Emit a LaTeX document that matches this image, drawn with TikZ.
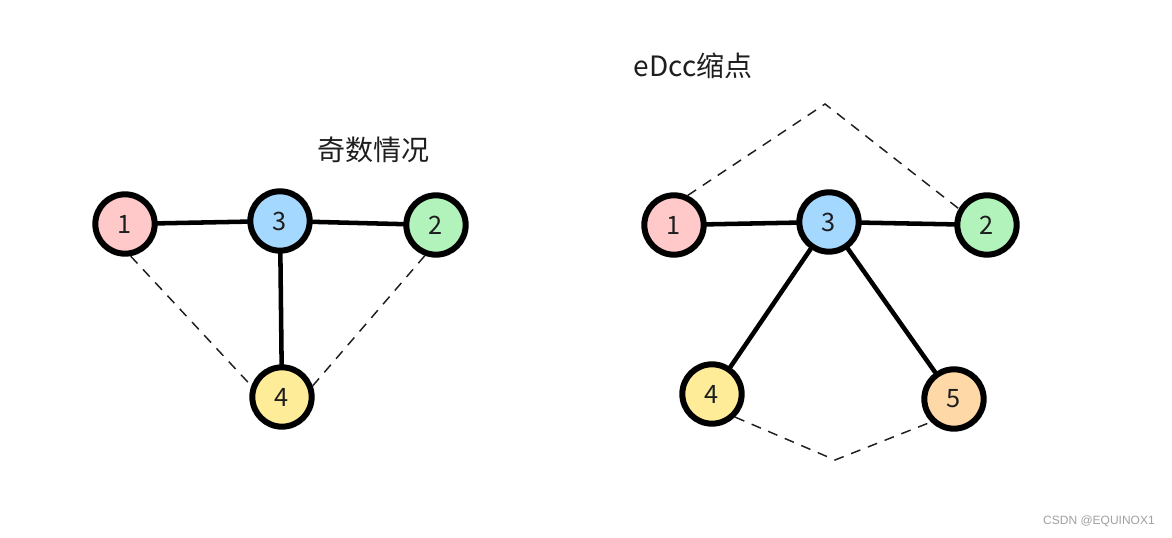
\documentclass[tikz,border=0pt]{standalone}
\usepackage{fontspec}
\newfontfamily\cjk{Noto Sans CJK SC}
\newfontfamily\wmfont{Liberation Sans}

\tikzset{every picture/.style={line width=0.75pt}}
\tikzset{
  vtx/.style={circle, draw={rgb, 255:red, 0; green, 0; blue, 0}, line width=4.5pt, minimum size=44.5pt, inner sep=0pt, font=\cjk\fontsize{19}{19}\selectfont, text={rgb, 255:red, 30; green, 30; blue, 30}},
  tree/.style={line width=3.4pt, line cap=round},
  virt/.style={line width=1.1pt, dash pattern={on 7.5pt off 6pt}, draw={rgb, 255:red, 30; green, 30; blue, 30}},
}

\begin{document}
\begin{tikzpicture}[x=0.75pt,y=0.75pt,yscale=-1,xscale=1]
\useasboundingbox (0,0) rectangle (1172,538);

%Shape: Circle
\node [vtx, fill={rgb, 255:red, 255; green, 201; blue, 201}] (l1) at (125,224) {1};
%Shape: Circle
\node [vtx, fill={rgb, 255:red, 165; green, 216; blue, 255}] (l3) at (280,221) {3};
%Shape: Circle
\node [vtx, fill={rgb, 255:red, 178; green, 242; blue, 187}] (l2) at (436,225) {2};
%Shape: Circle
\node [vtx, fill={rgb, 255:red, 255; green, 236; blue, 153}] (l4) at (282,397) {4};

%Straight Lines
\draw [tree] (l1) -- (l3) ;
%Straight Lines
\draw [tree] (l3) -- (l2) ;
%Straight Lines
\draw [tree] (l3) -- (l4) ;
%Straight Lines
\draw [virt] (l1.-80) -- (l4.160) ;
%Straight Lines
\draw [virt] (l2.-110) -- (l4.20) ;

%Shape: Circle
\node [vtx, fill={rgb, 255:red, 255; green, 201; blue, 201}] (r1) at (674,225) {1};
%Shape: Circle
\node [vtx, fill={rgb, 255:red, 165; green, 216; blue, 255}] (r3) at (829,222) {3};
%Shape: Circle
\node [vtx, fill={rgb, 255:red, 178; green, 242; blue, 187}] (r2) at (987,225) {2};
%Shape: Circle
\node [vtx, fill={rgb, 255:red, 255; green, 236; blue, 153}] (r4) at (712,394) {4};
%Shape: Circle
\node [vtx, fill={rgb, 255:red, 255; green, 216; blue, 168}] (r5) at (954,399) {5};

%Straight Lines
\draw [tree] (r1) -- (r3) ;
%Straight Lines
\draw [tree] (r3) -- (r2) ;
%Straight Lines
\draw [tree] (r3) -- (r4) ;
%Straight Lines
\draw [tree] (r3) -- (r5) ;

\coordinate (top) at (825,104) ;
\coordinate (bot) at (835,460) ;
%Straight Lines
\draw [virt] (r1.65) -- (top) -- (r2.150) ;
%Straight Lines
\draw [virt] (r4.-45) -- (bot) -- (r5.-135) ;

% Text Node
\node [font=\cjk\fontsize{21}{21}\selectfont, text={rgb, 255:red, 30; green, 30; blue, 30}] (odd) at (373,150) {奇数情况};
% Text Node
\node [font=\cjk\fontsize{21}{21}\selectfont, text={rgb, 255:red, 30; green, 30; blue, 30}] (edcc) at (693,66) {eDcc缩点};
% Text Node
\node [font=\wmfont\fontsize{9}{9}\selectfont, text={rgb, 255:red, 160; green, 160; blue, 160}] (wm) at (1099,521) {CSDN @EQUINOX1};

\end{tikzpicture}
\end{document}
